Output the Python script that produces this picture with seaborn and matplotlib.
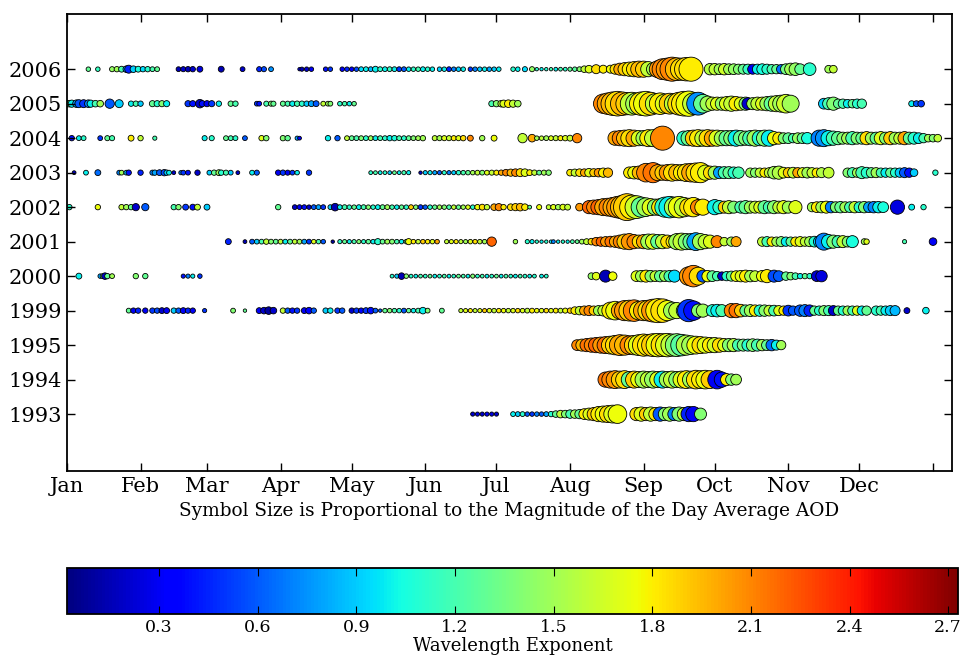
import matplotlib
matplotlib.use("Agg")
import matplotlib.pyplot as plt
import matplotlib.colors as mcolors
import matplotlib.cm as cm
import pandas as pd
import seaborn as sns

# ---- data: (day of year, day-average AOD, wavelength exponent) ----
years = ["1993", "1994", "1995", "1999", "2000", "2001", "2002", "2003", "2004", "2005", "2006"]
month_labels = ["Jan", "Feb", "Mar", "Apr", "May", "Jun", "Jul", "Aug", "Sep", "Oct", "Nov", "Dec", ""]
month_days = [1, 32, 60, 91, 121, 152, 182, 213, 244, 274, 305, 335, 366]
cbar_ticks = [0.3, 0.6, 0.9, 1.2, 1.5, 1.8, 2.1, 2.4, 2.7]

r1993 = [(172,0.06,0.2),(174,0.06,0.25),(176,0.06,0.2),(178,0.06,0.3),(180,0.06,0.25),(182,0.06,0.2),
         (189,0.08,1.0),(191,0.08,0.9),(193,0.08,1.1),(195,0.07,0.6),(197,0.07,0.5),(199,0.07,0.7),(201,0.07,0.6),
         (203,0.08,0.8),(205,0.1,1.1),(207,0.15,1.3),(209,0.2,1.6),(211,0.2,1.4),(213,0.25,1.2),(215,0.25,1.5),
         (217,0.3,1.3),(219,0.4,1.8),(221,0.5,1.7),(223,0.6,1.9),(225,0.8,1.8),(227,0.9,1.75),(229,1.0,1.85),
         (231,1.1,1.7),(233,1.2,1.75),(241,0.6,1.85),(243,0.7,1.7),(245,0.6,1.9),(247,0.7,1.6),(249,0.6,1.8),
         (251,0.7,0.6),(253,0.6,1.4),(255,0.7,1.5),(257,0.6,0.7),(259,0.7,1.4),(261,0.6,1.6),(263,0.8,0.45),
         (265,0.8,0.3),(268,0.5,1.4)]

r1994 = [(228,0.8,2.15),(230,1.0,2.1),(232,1.1,2.05),(234,1.0,1.9),(236,1.1,1.85),(238,0.9,1.3),(240,1.0,1.9),
         (242,0.9,1.75),(244,1.0,1.5),(246,0.9,1.6),(248,1.0,1.45),(250,0.9,1.7),(252,1.0,1.0),(254,0.9,1.5),
         (256,1.0,1.6),(258,0.9,1.4),(260,1.0,1.7),(262,1.1,1.8),(264,1.0,1.5),(266,1.2,1.85),(268,1.1,1.8),
         (270,1.2,1.75),(272,1.1,1.9),(275,1.2,0.3),(277,0.8,0.4),(279,0.5,1.8),(281,0.45,1.4),(283,0.4,1.5)]

r1995 = [(216,0.4,2.1),(218,0.5,1.95),(220,0.6,2.15),(222,0.7,2.1),(224,0.8,2.2),(226,0.9,2.05),(228,1.0,2.15),
         (230,1.1,1.9),(232,1.3,1.85),(234,1.5,2.0),(236,1.4,1.95),(238,1.2,2.1),(240,1.3,1.9),(242,1.5,1.7),
         (244,1.7,1.85),(246,1.6,1.8),(248,1.8,1.9),(250,1.9,1.75),(252,1.8,1.85),(254,1.9,1.7),(256,1.7,1.6),
         (258,1.8,1.4),(260,1.6,1.25),(262,1.4,1.55),(264,1.2,1.5),(266,1.1,1.75),(268,1.0,1.85),(270,0.9,1.7),
         (272,0.8,1.8),(274,0.8,1.65),(276,0.7,1.85),(278,0.6,1.7),(280,0.6,1.4),(282,0.6,1.55),(284,0.5,1.2),
         (286,0.5,1.35),(288,0.5,1.1),(290,0.55,1.4),(292,0.5,1.2),(294,0.45,1.5),(296,0.4,1.3),(298,0.45,0.65),
         (300,0.35,1.0),(302,0.3,1.5)]

r1999 = [(27,0.08,1.3),(29,0.1,0.3),(31,0.1,0.45),(34,0.1,0.3),(37,0.1,0.5),(39,0.1,0.55),(41,0.12,0.2),
         (43,0.12,0.3),(46,0.1,0.9),(48,0.1,0.6),(50,0.12,0.3),(52,0.1,0.45),(54,0.1,0.3),(59,0.06,0.5),
         (71,0.08,1.4),(76,0.04,1.3),(82,0.12,0.3),(84,0.15,0.2),(86,0.2,0.1),(88,0.15,0.2),(92,0.1,1.6),
         (94,0.1,0.6),(96,0.1,0.4),(98,0.1,0.5),(101,0.12,0.3),(103,0.15,0.35),(105,0.1,0.6),(110,0.1,0.9),
         (112,0.1,1.0),(115,0.1,0.5),(117,0.1,0.6),(121,0.1,0.2),(123,0.1,0.5),(125,0.1,0.35),(127,0.12,0.5),
         (129,0.15,0.4),(131,0.08,0.6),(133,0.04,0.6),(135,0.07,1.3),(137,0.07,1.4),(139,0.07,1.2),(141,0.07,1.1),
         (143,0.08,0.6),(145,0.07,1.3),(147,0.07,1.0),(149,0.08,1.2),(151,0.15,1.0),(153,0.08,1.4),(159,0.08,1.3),
         (167,0.06,1.6),(169,0.06,1.7),(171,0.06,1.8),(173,0.06,1.6),(175,0.06,1.7),(177,0.06,1.9),(179,0.07,1.7),
         (181,0.07,1.6),(183,0.07,1.8),(185,0.07,1.75),(187,0.07,1.6),(189,0.07,1.7),(191,0.07,1.85),(193,0.07,1.7),
         (195,0.08,1.6),(197,0.08,1.8),(199,0.07,1.75),(201,0.07,1.7),(203,0.07,1.85),(205,0.07,1.7),(207,0.08,1.8),
         (209,0.08,1.6),(211,0.09,1.75),(213,0.1,1.9),(215,0.2,1.8),(217,0.25,1.6),(219,0.3,2.0),(221,0.35,2.1),
         (223,0.3,1.9),(225,0.35,1.5),(227,0.4,1.6),(230,1.0,1.8),(232,1.2,1.75),(234,1.0,2.0),(236,1.4,2.05),
         (238,1.5,1.9),(240,1.6,2.1),(242,1.2,1.8),(244,1.4,2.0),(246,1.5,1.85),(248,1.8,2.05),(250,2.0,1.8),
         (252,1.9,1.85),(254,1.4,1.75),(256,1.0,1.5),(258,0.9,1.6),(261,0.8,1.3),(263,1.7,0.5),(265,1.3,0.4),
         (267,0.6,1.4),(269,0.6,1.5),(273,0.5,1.1),(275,0.55,1.0),(277,0.5,1.2),(281,0.7,2.1),(283,0.7,2.15),
         (285,0.55,1.9),(287,0.45,1.3),(289,0.5,1.5),(291,0.45,1.8),(293,0.45,1.1),(295,0.45,1.4),(297,0.4,1.6),
         (299,0.4,1.2),(301,0.35,1.7),(303,0.3,1.8),(305,0.4,0.5),(307,0.3,0.6),(310,0.45,0.6),(312,0.5,0.7),
         (314,0.45,0.45),(316,0.3,1.3),(318,0.3,1.1),(320,0.35,1.4),(322,0.35,1.2),(324,0.35,0.2),(326,0.3,1.3),
         (328,0.3,1.1),(330,0.3,1.5),(332,0.3,1.2),(334,0.3,1.7),(336,0.3,1.0),(338,0.3,1.3),(342,0.3,1.1),
         (344,0.3,1.2),(346,0.3,1.0),(348,0.35,0.9),(350,0.35,0.85),(355,0.12,0.2),(363,0.15,1.0)]

r2000 = [(6,0.12,1.0),(15,0.07,0.8),(16,0.08,1.4),(17,0.15,0.2),(18,0.1,1.3),(20,0.08,1.5),(30,0.1,1.4),
         (34,0.1,1.3),(50,0.06,0.4),(52,0.06,0.7),(54,0.06,1.0),(57,0.07,0.5),(138,0.05,1.1),(140,0.06,0.9),
         (142,0.15,0.15),(144,0.07,1.4),(146,0.05,1.1),(148,0.05,1.0),(150,0.05,1.2),(152,0.05,1.1),(154,0.05,1.3),
         (156,0.05,1.0),(158,0.05,1.1),(160,0.05,1.2),(162,0.05,1.0),(164,0.05,1.1),(166,0.05,1.3),(168,0.05,1.2),
         (170,0.05,1.0),(172,0.06,1.4),(174,0.05,1.1),(176,0.05,1.2),(178,0.05,1.0),(180,0.05,1.1),(182,0.05,1.3),
         (184,0.05,1.0),(186,0.05,1.2),(188,0.05,1.1),(190,0.05,1.0),(192,0.05,1.2),(194,0.05,1.1),(196,0.05,1.0),
         (198,0.05,1.1),(201,0.05,1.0),(203,0.05,1.1),(222,0.15,1.45),(224,0.2,1.7),(228,0.5,0.15),(231,0.25,1.75),
         (241,0.4,1.7),(243,0.45,1.5),(245,0.5,1.8),(247,0.45,1.4),(249,0.4,1.6),(251,0.45,1.3),(253,0.4,1.5),
         (255,0.45,1.2),(257,0.5,0.95),(263,1.2,2.05),(265,1.6,2.1),(267,1.1,1.85),(269,0.5,0.6),(271,0.45,1.75),
         (273,0.4,1.3),(275,0.3,1.2),(277,0.25,0.2),(279,0.3,1.1),(281,0.35,1.3),(283,0.4,1.75),(285,0.45,1.7),
         (287,0.5,1.8),(289,0.45,1.5),(291,0.4,1.6),(294,0.45,1.75),(296,0.6,1.8),(299,0.5,0.55),(301,0.4,0.6),
         (304,0.25,1.3),(306,0.2,1.4),(308,0.15,1.2),(310,0.1,1.0),(312,0.1,1.3),(314,0.1,1.1),(317,0.4,0.2),
         (319,0.45,0.25)]

r2001 = [(69,0.12,0.45),(76,0.05,0.15),(79,0.08,0.6),(81,0.08,0.9),(83,0.08,1.2),(85,0.1,1.6),(87,0.08,1.4),
         (89,0.08,1.3),(91,0.08,1.6),(93,0.08,1.0),(95,0.08,1.3),(97,0.08,1.6),(99,0.08,1.5),(101,0.08,0.8),
         (103,0.08,0.5),(105,0.07,1.7),(107,0.07,1.2),(109,0.07,0.6),(113,0.04,0.1),(116,0.06,1.1),(118,0.06,1.3),
         (120,0.06,1.0),(122,0.06,1.2),(124,0.06,1.4),(126,0.06,1.1),(128,0.07,1.3),(130,0.07,1.0),(132,0.13,1.1),
         (134,0.08,1.3),(136,0.08,1.5),(138,0.08,1.4),(140,0.07,1.2),(142,0.07,1.0),(144,0.07,1.3),(145,0.13,1.75),
         (147,0.07,1.8),(149,0.07,1.6),(151,0.07,1.9),(153,0.07,1.8),(155,0.07,1.7),(157,0.07,2.0),(161,0.06,1.6),
         (163,0.06,1.7),(165,0.06,1.8),(167,0.06,1.6),(169,0.06,1.5),(171,0.07,1.7),(173,0.07,1.85),(175,0.07,1.6),
         (177,0.07,1.5),(180,0.3,2.2),(190,0.07,1.5),(195,0.06,1.1),(197,0.06,1.0),(199,0.04,1.1),(201,0.04,1.0),
         (203,0.04,1.1),(205,0.04,1.0),(206,0.05,0.7),(208,0.04,1.0),(210,0.04,1.1),(212,0.04,1.0),(214,0.05,1.2),
         (216,0.05,1.3),(218,0.08,1.5),(220,0.12,1.6),(222,0.15,1.85),(224,0.25,2.1),(226,0.3,2.2),(228,0.35,2.05),
         (230,0.4,2.15),(232,0.45,2.0),(234,0.6,2.1),(236,0.8,1.9),(238,0.9,2.05),(240,0.7,2.1),(242,0.6,1.85),
         (244,0.7,2.0),(246,0.8,1.5),(248,0.8,1.7),(250,0.7,1.3),(252,0.7,1.6),(254,0.6,1.85),(256,0.5,1.8),
         (258,0.9,1.5),(260,1.0,1.6),(262,0.9,1.4),(264,0.9,1.3),(266,1.1,0.8),(268,0.9,1.5),(270,0.7,1.6),
         (272,0.6,1.7),(275,0.5,2.1),(278,0.25,1.6),(281,0.3,1.5),(283,0.35,2.0),(294,0.3,1.6),(296,0.35,1.2),
         (298,0.3,1.8),(300,0.3,1.5),(302,0.35,1.4),(304,0.3,1.0),(306,0.3,1.3),(308,0.3,1.8),(310,0.35,1.7),
         (312,0.3,1.6),(314,0.35,1.5),(316,0.4,1.1),(318,0.45,0.9),(320,1.0,0.7),(322,0.7,1.0),(324,0.6,1.4),
         (326,0.5,1.2),(328,0.5,1.6),(330,0.4,1.4),(332,0.5,1.05),(337,0.12,1.5),(338,0.1,1.7),(354,0.06,1.2),
         (366,0.2,0.3)]

r2002 = [(2,0.1,1.1),(14,0.1,1.75),(24,0.1,1.6),(26,0.1,1.5),(28,0.1,1.3),(30,0.18,0.2),(34,0.18,0.6),
         (46,0.1,1.2),(48,0.1,1.4),(51,0.12,0.5),(54,0.12,0.4),(56,0.12,1.6),(60,0.12,0.9),(90,0.1,1.3),
         (97,0.08,0.2),(99,0.08,0.3),(101,0.08,0.4),(103,0.07,0.2),(105,0.08,0.6),(107,0.08,0.8),(109,0.08,0.5),
         (112,0.08,0.9),(114,0.2,0.15),(116,0.08,1.0),(118,0.08,1.2),(120,0.07,1.1),(122,0.07,1.3),(124,0.08,1.0),
         (126,0.08,1.2),(128,0.07,1.4),(130,0.07,1.1),(132,0.08,1.0),(134,0.08,1.3),(136,0.08,1.5),(138,0.07,1.2),
         (140,0.07,1.0),(142,0.07,1.3),(144,0.07,1.1),(146,0.08,1.9),(148,0.07,1.4),(150,0.08,0.5),(152,0.07,0.6),
         (154,0.07,1.1),(156,0.07,1.3),(158,0.07,1.5),(160,0.07,1.4),(162,0.07,1.2),(164,0.07,1.6),(166,0.07,1.3),
         (168,0.07,1.5),(170,0.07,1.7),(172,0.07,1.1),(174,0.1,1.75),(176,0.12,1.85),(178,0.1,1.6),(181,0.15,2.0),
         (183,0.18,2.1),(185,0.1,1.8),(188,0.15,1.85),(190,0.18,1.9),(192,0.2,1.95),(194,0.15,1.8),(196,0.05,1.3),
         (200,0.09,1.75),(204,0.08,1.6),(206,0.1,1.7),(208,0.1,1.5),(210,0.12,1.7),(212,0.12,1.6),(217,0.2,2.05),
         (221,0.6,2.2),(223,0.7,2.1),(225,0.8,2.2),(227,1.0,2.0),(229,1.1,2.1),(231,1.3,2.0),(233,1.6,2.05),
         (235,1.9,1.95),(237,2.5,1.9),(239,2.0,1.8),(241,1.8,1.65),(243,1.4,1.3),(245,1.2,1.5),(247,1.0,1.7),
         (249,0.9,1.4),(251,1.0,1.8),(253,1.4,1.1),(255,1.6,1.0),(257,1.4,1.5),(259,1.6,1.75),(261,1.3,1.6),
         (263,1.1,1.85),(265,1.3,1.8),(267,0.8,2.1),(269,0.9,1.8),(274,0.8,1.0),(276,0.6,1.1),(278,0.5,1.9),
         (280,0.6,1.6),(282,0.5,1.4),(285,0.5,1.2),(287,0.6,1.3),(289,0.5,1.5),(291,0.5,1.6),(293,0.5,1.7),
         (295,0.6,1.3),(297,0.5,1.2),(299,0.6,1.4),(301,0.5,1.6),(303,0.6,1.7),(305,0.5,1.5),(308,0.6,1.7),
         (315,0.3,1.5),(317,0.4,1.8),(319,0.45,1.5),(321,0.5,1.75),(323,0.45,0.7),(325,0.4,1.4),(327,0.45,1.3),
         (329,0.4,1.5),(331,0.4,1.2),(333,0.45,1.6),(335,0.4,1.1),(337,0.45,1.4),(339,0.4,0.8),(341,0.45,0.7),
         (343,0.45,1.0),(345,0.4,1.05),(351,0.7,0.25),(357,0.12,1.0),(362,0.1,1.1)]

r2003 = [(4,0.05,0.2),(9,0.08,1.0),(14,0.12,0.65),(23,0.08,0.7),(24,0.08,1.5),(26,0.08,0.9),(27,0.1,0.4),
         (32,0.1,0.45),(37,0.09,0.7),(38,0.1,0.8),(40,0.12,0.6),(42,0.14,0.55),(43,0.1,0.9),(44,0.08,1.0),
         (46,0.05,0.2),(49,0.06,0.7),(50,0.08,0.5),(52,0.08,0.4),(56,0.1,0.2),(61,0.08,0.9),(63,0.1,1.3),
         (65,0.12,1.5),(66,0.1,1.1),(68,0.09,1.2),(70,0.08,0.9),(73,0.05,0.2),(79,0.08,1.0),(81,0.09,0.6),
         (90,0.1,0.3),(92,0.1,0.5),(94,0.09,0.3),(96,0.08,0.5),(98,0.07,1.0),(103,0.1,0.5),(129,0.05,1.1),
         (131,0.05,1.2),(133,0.05,1.0),(135,0.05,1.1),(137,0.05,0.9),(139,0.05,1.3),(141,0.05,1.0),(143,0.06,1.2),
         (145,0.06,1.0),(150,0.04,0.2),(152,0.06,0.9),(154,0.06,1.0),(156,0.06,0.8),(158,0.06,0.6),(160,0.06,1.1),
         (162,0.06,0.7),(164,0.06,0.9),(166,0.07,1.1),(168,0.07,1.2),(170,0.07,1.3),(172,0.07,1.5),(174,0.08,1.6),
         (176,0.08,1.4),(178,0.08,1.7),(180,0.09,1.6),(182,0.09,1.8),(184,0.1,2.0),(186,0.15,2.1),(188,0.18,1.95),
         (190,0.2,2.1),(192,0.22,1.85),(194,0.2,1.7),(196,0.12,1.8),(198,0.1,1.6),(200,0.08,1.3),(202,0.09,1.5),
         (204,0.1,1.4),(213,0.15,1.8),(215,0.18,1.6),(217,0.2,1.85),(219,0.2,2.0),(221,0.25,1.7),(223,0.22,1.9),
         (225,0.25,2.05),(227,0.3,1.8),(229,0.3,1.95),(238,0.45,1.8),(240,0.55,1.75),(242,0.6,1.95),(245,1.2,2.1),
         (248,1.4,2.15),(250,0.9,2.0),(252,0.8,1.9),(254,0.9,2.05),(256,1.0,1.85),(258,0.9,1.95),(260,0.9,1.8),
         (262,1.1,1.85),(264,1.2,2.0),(266,1.3,1.85),(268,1.4,1.8),(270,0.8,1.7),(272,0.6,1.85),(274,0.6,1.5),
         (276,0.5,0.8),(278,0.5,1.2),(280,0.5,1.3),(282,0.45,1.1),(284,0.45,1.2),(289,0.3,1.5),(291,0.3,1.4),
         (293,0.3,1.6),(295,0.3,1.8),(297,0.35,1.6),(299,0.55,1.5),(301,0.6,1.55),(303,0.4,1.7),(305,0.35,1.9),
         (307,0.4,1.6),(309,0.35,2.0),(311,0.35,1.7),(313,0.4,1.5),(315,0.35,1.6),(317,0.3,1.8),(319,0.35,1.55),
         (322,0.4,1.6),(330,0.3,1.4),(332,0.35,1.2),(334,0.3,1.5),(336,0.5,1.2),(338,0.4,1.1),(340,0.35,1.3),
         (342,0.35,1.5),(344,0.3,1.2),(346,0.3,1.0),(348,0.3,1.3),(350,0.3,1.1),(352,0.3,0.9),(354,0.35,0.6),
         (356,0.3,0.4),(358,0.2,0.9),(367,0.1,1.1)]

r2004 = [(3,0.1,0.4),(6,0.08,1.0),(8,0.08,1.1),(15,0.08,0.5),(18,0.09,1.3),(20,0.09,1.2),(28,0.12,1.8),
         (32,0.1,1.6),(38,0.06,1.2),(59,0.09,1.0),(62,0.09,1.1),(68,0.08,1.3),(70,0.08,1.2),(72,0.08,1.1),
         (76,0.08,0.6),(83,0.1,1.7),(85,0.1,1.4),(92,0.1,1.4),(94,0.1,1.3),(98,0.06,0.8),(99,0.05,0.3),
         (111,0.1,1.0),(115,0.1,0.6),(119,0.08,1.6),(121,0.08,1.3),(123,0.08,1.2),(125,0.08,1.4),(127,0.08,1.1),
         (129,0.08,1.5),(131,0.08,1.0),(133,0.08,1.2),(135,0.08,1.1),(137,0.1,1.0),(139,0.1,1.05),(141,0.08,1.2),
         (143,0.08,1.1),(145,0.08,1.3),(147,0.08,1.4),(149,0.08,1.5),(151,0.1,1.5),(156,0.09,1.6),(158,0.09,1.5),
         (160,0.09,1.7),(162,0.09,1.6),(164,0.09,1.8),(166,0.09,1.7),(168,0.1,1.85),(171,0.12,2.1),(176,0.1,1.5),
         (181,0.12,1.75),(193,0.3,1.6),(197,0.2,2.0),(199,0.07,1.5),(201,0.07,1.6),(203,0.08,1.5),(205,0.08,1.7),
         (207,0.09,1.6),(209,0.09,1.8),(211,0.1,1.7),(213,0.12,1.6),(216,0.3,2.1),(232,0.7,2.0),(234,0.8,2.1),
         (236,0.9,1.95),(238,1.0,1.85),(240,0.9,2.0),(242,0.8,1.7),(244,0.8,1.5),(246,1.0,1.8),(248,1.0,1.6),
         (252,2.0,2.1),(261,0.7,1.1),(263,0.8,1.3),(265,0.9,1.9),(267,1.0,1.8),(269,0.9,1.6),(271,1.0,1.85),
         (273,0.9,2.0),(275,0.9,1.7),(277,0.8,1.5),(279,0.8,1.3),(281,0.8,1.4),(283,0.9,1.0),(285,0.8,1.3),
         (287,0.7,1.4),(289,0.8,1.2),(291,0.9,1.5),(293,0.8,1.1),(295,0.9,1.4),(297,0.9,1.0),(299,0.6,1.75),
         (301,0.5,1.8),(303,0.4,1.4),(305,0.4,1.3),(307,0.3,1.2),(309,0.4,1.45),(311,0.4,1.3),(313,0.45,1.05),
         (318,0.9,0.7),(320,1.0,0.75),(322,0.8,1.0),(324,0.7,1.2),(326,0.6,1.3),(328,0.5,1.4),(330,0.5,1.5),
         (332,0.6,1.2),(334,0.5,1.4),(336,0.5,1.3),(338,0.6,1.85),(340,0.5,1.5),(342,0.5,1.3),(344,0.6,1.7),
         (346,0.5,1.4),(348,0.6,1.9),(350,0.5,1.5),(352,0.5,1.6),(354,0.6,2.0),(356,0.5,1.3),(358,0.5,1.1),
         (360,0.4,1.0),(362,0.3,1.2),(364,0.2,1.5),(366,0.2,1.4),(368,0.2,1.6)]

r2005 = [(1,0.15,1.2),(2,0.15,1.4),(3,0.18,1.0),(5,0.2,0.8),(6,0.22,0.6),(8,0.22,0.5),(10,0.2,0.7),
         (11,0.18,1.0),(13,0.15,1.2),(15,0.15,1.5),(19,0.3,0.6),(23,0.22,0.9),(28,0.1,1.0),(30,0.1,1.2),
         (32,0.1,0.9),(37,0.13,1.3),(39,0.13,1.1),(41,0.13,1.4),(43,0.13,1.0),(52,0.13,0.5),(54,0.13,0.4),
         (57,0.25,0.2),(58,0.13,0.4),(60,0.13,0.3),(62,0.13,0.5),(65,0.1,1.0),(70,0.1,1.3),(72,0.1,1.2),
         (81,0.08,0.5),(82,0.08,0.4),(85,0.09,1.2),(87,0.09,1.4),(88,0.09,1.3),(92,0.09,1.3),(94,0.09,1.2),
         (96,0.1,1.0),(98,0.1,1.2),(100,0.1,1.1),(102,0.1,0.9),(104,0.12,0.8),(106,0.12,0.6),(109,0.08,1.6),
         (111,0.08,1.5),(112,0.08,1.4),(116,0.07,1.1),(118,0.07,1.2),(120,0.07,1.0),(122,0.07,1.3),(180,0.12,1.2),
         (182,0.14,1.4),(184,0.15,1.6),(185,0.18,1.7),(187,0.2,1.8),(189,0.18,1.6),(191,0.15,1.5),(227,1.3,2.1),
         (229,1.6,2.0),(231,1.9,1.95),(233,2.1,1.85),(235,1.9,1.95),(237,1.7,1.9),(239,1.8,1.6),(241,1.6,1.5),
         (243,1.9,1.8),(245,2.1,1.75),(247,1.8,1.85),(249,1.4,1.6),(251,1.6,1.8),(253,1.3,1.7),(255,1.5,1.9),
         (257,1.4,1.6),(259,1.8,1.85),(261,2.1,1.8),(263,2.2,1.75),(265,1.6,1.6),(267,1.8,0.75),(269,1.2,1.3),
         (271,0.8,1.5),(273,0.6,1.6),(275,0.6,1.7),(277,0.6,1.45),(279,0.7,1.7),(281,0.8,1.6),(283,0.7,1.8),
         (285,0.6,1.7),(287,0.6,1.4),(288,0.5,0.2),(290,0.5,1.5),(292,0.6,1.6),(294,0.6,1.7),(296,0.7,1.5),
         (298,0.8,1.3),(300,0.9,1.6),(302,1.0,1.5),(304,1.2,1.65),(306,1.0,1.5),(320,0.4,0.9),(322,0.5,1.2),
         (324,0.6,1.4),(326,0.3,1.3),(328,0.3,1.2),(330,0.25,1.0),(332,0.25,1.3),(334,0.3,1.1),(336,0.3,1.2),
         (357,0.12,1.0),(359,0.12,0.6),(361,0.15,0.5)]

r2006 = [(10,0.07,1.3),(14,0.07,1.15),(20,0.09,1.45),(22,0.1,1.5),(24,0.12,1.2),(26,0.15,0.8),(27,0.22,0.45),
         (29,0.15,0.9),(31,0.12,1.05),(33,0.1,0.95),(35,0.1,1.1),(37,0.08,1.2),(39,0.08,1.3),(48,0.08,0.15),
         (50,0.09,0.2),(52,0.1,0.15),(54,0.1,0.2),(57,0.12,0.25),(66,0.12,0.15),(75,0.08,0.2),(82,0.09,0.45),
         (84,0.09,0.55),(87,0.08,0.75),(99,0.04,0.3),(100,0.06,0.15),(102,0.07,0.2),(104,0.07,0.3),(110,0.07,0.4),
         (112,0.07,0.5),(117,0.07,0.3),(119,0.07,0.45),(121,0.07,0.35),(123,0.07,0.55),(125,0.08,0.95),
         (127,0.08,1.0),(129,0.08,0.85),(131,0.12,1.0),(133,0.08,1.1),(135,0.08,1.0),(137,0.08,1.15),(139,0.08,1.0),
         (141,0.08,0.5),(143,0.08,0.6),(145,0.07,1.0),(147,0.07,1.1),(149,0.07,1.2),(151,0.08,1.0),(153,0.07,1.1),
         (155,0.07,1.0),(158,0.07,0.9),(160,0.07,1.0),(162,0.08,0.45),(164,0.07,0.7),(166,0.07,0.9),(168,0.07,1.0),
         (171,0.07,0.5),(173,0.07,0.7),(175,0.07,0.9),(177,0.07,1.0),(179,0.07,0.8),(181,0.07,0.9),(183,0.07,1.0),
         (189,0.07,1.1),(191,0.07,1.0),(194,0.09,0.95),(197,0.09,1.45),(199,0.04,1.1),(201,0.04,1.0),(203,0.04,1.1),
         (205,0.04,1.2),(207,0.05,1.0),(209,0.05,1.2),(211,0.05,1.1),(213,0.06,1.3),(215,0.07,1.25),(217,0.08,1.4),
         (219,0.15,1.6),(221,0.2,1.7),(224,0.28,1.85),(227,0.22,1.8),(230,0.22,1.75),(232,0.35,1.85),(234,0.5,2.0),
         (236,0.6,1.9),(238,0.7,1.8),(240,0.8,1.85),(242,0.9,1.95),(244,0.9,1.9),(246,0.8,1.6),(248,0.6,1.5),
         (250,1.0,2.05),(252,1.5,2.1),(254,1.7,2.05),(256,2.0,2.1),(258,1.8,1.95),(260,1.7,1.85),(262,1.9,1.85),
         (264,2.0,1.8),(272,0.45,1.55),(274,0.45,1.6),(276,0.4,1.5),(278,0.45,1.65),(280,0.4,1.5),(282,0.4,1.45),
         (284,0.35,1.4),(286,0.35,1.3),(288,0.35,1.15),(290,0.35,0.3),(292,0.35,1.0),(294,0.4,1.05),(296,0.35,1.1),
         (298,0.3,1.2),(300,0.3,1.3),(302,0.3,0.65),(304,0.4,1.35),(306,0.5,1.5),(308,0.55,1.45),(310,0.4,1.3),
         (314,0.55,1.1),(322,0.2,1.5),(324,0.2,1.6)]

rows = [r1993, r1994, r1995, r1999, r2000, r2001, r2002, r2003, r2004, r2005, r2006]

records = []
for idx, (yr, pts) in enumerate(zip(years, rows)):
    for d, a, e in pts:
        records.append({"year": yr, "row": idx, "day": d, "aod": a, "ae": e})
df = pd.DataFrame(records)

plt.rcParams["font.family"] = ["DejaVu Serif"]

jet = matplotlib.colormaps["jet"]
norm = mcolors.Normalize(vmin=0.02, vmax=2.73)
fig = plt.figure(figsize=(9.65, 6.57), dpi=100)
ax = fig.add_axes([67 / 965, 1 - 471 / 657, (952 - 67) / 965, (471 - 14) / 657])
cax = fig.add_axes([67 / 965, 1 - 614 / 657, (958 - 67) / 965, (614 - 568) / 657])

sns.scatterplot(data=df, x="day", y="row", hue="ae", palette=jet, hue_norm=norm,
                size="aod", sizes=(0, 450), size_norm=(0, 3),
                edgecolor="black", linewidth=0.6, legend=False, ax=ax)

ax.set_xlim(1, 374)
ax.set_ylim(-1.65, 11.6)
ax.set_xticks(month_days)
ax.set_xticklabels(month_labels, fontsize=15)
ax.set_yticks(range(len(years)))
ax.set_yticklabels(years, fontsize=15)
ax.set_ylabel("")
ax.set_xlabel("Symbol Size is Proportional to the Magnitude of the Day Average AOD", fontsize=13.3, labelpad=5)
ax.tick_params(direction="in", top=True, right=True, length=6, width=1, pad=4)
for s in ax.spines.values():
    s.set_linewidth(1.3)

sm = cm.ScalarMappable(norm=norm, cmap=jet)
cb = fig.colorbar(sm, cax=cax, orientation="horizontal")
cb.set_ticks(cbar_ticks)
cb.ax.tick_params(direction="in", top=True, bottom=True, length=6, labelsize=12.5)
cb.set_label("Wavelength Exponent", fontsize=13, labelpad=1)
cb.outline.set_linewidth(1.3)

fig.savefig("out.png", dpi=100)
